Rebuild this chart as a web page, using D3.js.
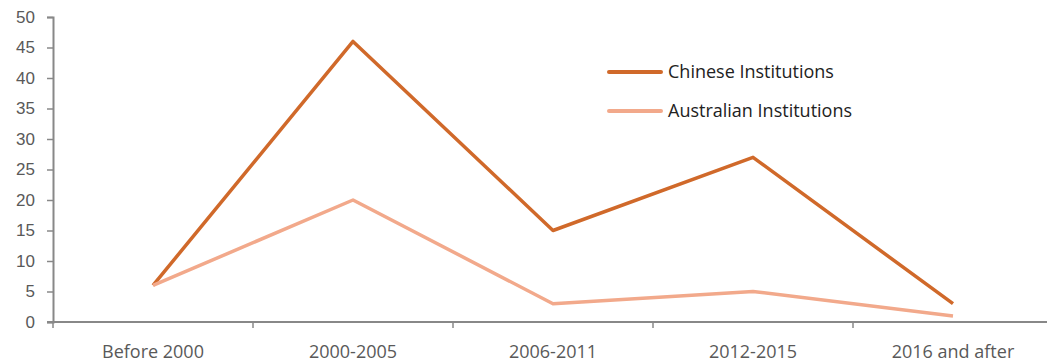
<!DOCTYPE html>
<html>
<head>
<meta charset="utf-8">
<script src="https://cdn.jsdelivr.net/npm/d3@7"></script>
<style>
  body { margin: 0; background: #fff; }
  svg { display: block; font-family: "Open Sans", sans-serif; }
</style>
</head>
<body>
<div id="wrapper"></div>
<script>
// data
const periods = ["Before 2000", "2000-2005", "2006-2011", "2012-2015", "2016 and after"]
const chinese = [6, 46, 15, 27, 3]
const australian = [6, 20, 3, 5, 1]
const yTicks = [0, 5, 10, 15, 20, 25, 30, 35, 40, 45, 50]

const seriesList = [
  { name: "Chinese Institutions", values: chinese, color: "#d0692a" },
  { name: "Australian Institutions", values: australian, color: "#f2a98b" },
]

const dimensions = {
  width: 1047,
  height: 362,
  margin: { top: 17, right: -6, bottom: 40, left: 53 },
}
dimensions.boundedWidth = dimensions.width - dimensions.margin.left - dimensions.margin.right
dimensions.boundedHeight = dimensions.height - dimensions.margin.top - dimensions.margin.bottom

const wrapper = d3.select("#wrapper").append("svg")
  .attr("width", dimensions.width)
  .attr("height", dimensions.height)

const bounds = wrapper.append("g")
  .attr("transform", `translate(${dimensions.margin.left},${dimensions.margin.top})`)

// scales
const xScale = d3.scaleBand()
  .domain(periods)
  .range([0, dimensions.boundedWidth])

const yScale = d3.scaleLinear()
  .domain([0, 50])
  .range([dimensions.boundedHeight, 0])

// y axis
const yAxis = bounds.append("g")
  .call(d3.axisLeft(yScale).tickValues(yTicks).tickSize(6).tickPadding(12))
yAxis.select(".domain").attr("stroke", "#888").attr("stroke-width", 2)
yAxis.selectAll(".tick line").attr("stroke", "#888").attr("stroke-width", 1.5)
yAxis.selectAll(".tick text")
  .attr("fill", "#595959")
  .style("font-size", "17px")
  .style("font-family", "inherit")

// x axis, ticks at band edges
const xAxis = bounds.append("g")
  .attr("transform", `translate(0,${dimensions.boundedHeight})`)
xAxis.append("line")
  .attr("x1", -6).attr("x2", dimensions.boundedWidth)
  .attr("stroke", "#888").attr("stroke-width", 2)
xAxis.selectAll(".xtick")
  .data(periods)
  .join("line")
  .attr("class", "xtick")
  .attr("x1", d => xScale(d)).attr("x2", d => xScale(d))
  .attr("y1", 0).attr("y2", 6)
  .attr("stroke", "#888").attr("stroke-width", 1.5)
xAxis.selectAll(".xlabel")
  .data(periods)
  .join("text")
  .attr("class", "xlabel")
  .attr("x", d => xScale(d) + xScale.bandwidth() / 2)
  .attr("y", 36)
  .attr("text-anchor", "middle")
  .attr("fill", "#595959")
  .style("font-size", "18px")
  .text(d => d)

// lines
const lineGen = d3.line()
  .x((d, i) => xScale(periods[i]) + xScale.bandwidth() / 2)
  .y(d => yScale(d))

bounds.selectAll(".series")
  .data(seriesList)
  .join("path")
  .attr("class", "series")
  .attr("fill", "none")
  .attr("stroke", d => d.color)
  .attr("stroke-width", 3.5)
  .attr("stroke-linejoin", "round")
  .attr("d", d => lineGen(d.values))

// legend
const legend = wrapper.append("g")
  .attr("transform", "translate(609,72)")
const items = legend.selectAll("g")
  .data(seriesList)
  .join("g")
  .attr("transform", (d, i) => `translate(0,${i * 39})`)
items.append("line")
  .attr("x1", 0).attr("x2", 52)
  .attr("stroke", d => d.color)
  .attr("stroke-width", 4)
  .attr("stroke-linecap", "round")
items.append("text")
  .attr("x", 59)
  .attr("dy", "0.35em")
  .attr("fill", "#222")
  .style("font-size", "18px")
  .text(d => d.name)
</script>
</body>
</html>
